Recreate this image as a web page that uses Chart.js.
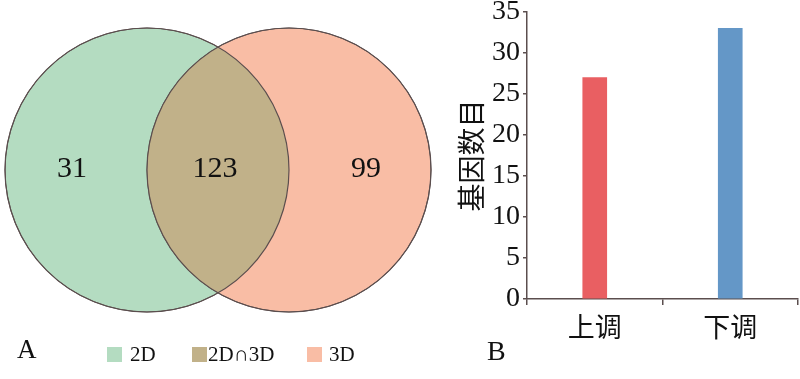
<!DOCTYPE html>
<html>
<head>
<meta charset="utf-8">
<script src="https://cdn.jsdelivr.net/npm/chart.js@4"></script>
<style>
  body { margin: 0; background: #fff; }
  #wrap { position: relative; width: 800px; height: 379px; }
  #venn { position: absolute; left: 0; top: 0; }
  #bars { position: absolute; left: 440px; top: 0; }
</style>
</head>
<body>
<div id="wrap">
  <canvas id="venn" width="440" height="379"></canvas>
  <canvas id="bars" width="360" height="379"></canvas>
</div>
<script>
// ==============================
// DATA
// ==============================
const vennSets   = ["2D", "2D∩3D", "3D"];
const vennCounts = [31, 123, 99];

const barLabels = ["上调", "下调"];
const barValues = [27, 33];
const yMax  = 35;
const yStep = 5;

// ==============================
// STYLE
// ==============================
const SERIF  = "'Liberation Serif', 'DejaVu Serif', serif";
const CJK    = "'Noto Sans CJK SC', sans-serif";
const INK    = "#111";
const AXIS   = "#5b4e4e";
const VENN_COLORS = ["#b4dcc1", "#c1b189", "#f9bda5"];
const BAR_COLORS  = ["#e95f62", "#6497c7"];

// circle layout (pixels in the venn canvas)
const CIRCLES = [{ x: 147, y: 170, r: 142 }, { x: 289, y: 170, r: 142 }];
const COUNT_X = [72, 215, 366];
const COUNT_Y = 169;

// ==============================
// VENN (bubble chart + overlay)
// ==============================
const vennPlugin = {
  id: "vennOverlay",
  afterDatasetsDraw(chart) {
    const ctx = chart.ctx;
    const pts = chart.getDatasetMeta(0).data;
    const a = pts[0], b = pts[1];
    const ra = a.options.radius, rb = b.options.radius;

    // intersection lens
    ctx.save();
    ctx.beginPath();
    ctx.arc(a.x, a.y, ra, 0, Math.PI * 2);
    ctx.clip();
    ctx.beginPath();
    ctx.arc(b.x, b.y, rb, 0, Math.PI * 2);
    ctx.fillStyle = VENN_COLORS[1];
    ctx.fill();
    ctx.restore();

    // outlines on top
    ctx.save();
    ctx.strokeStyle = AXIS;
    ctx.lineWidth = 1.2;
    [[a, ra], [b, rb]].forEach(([p, r]) => {
      ctx.beginPath();
      ctx.arc(p.x, p.y, r, 0, Math.PI * 2);
      ctx.stroke();
    });

    // counts
    ctx.fillStyle = INK;
    ctx.font = "30px " + SERIF;
    ctx.textAlign = "center";
    ctx.textBaseline = "middle";
    vennCounts.forEach((c, i) => ctx.fillText(String(c), COUNT_X[i], COUNT_Y));

    // legend
    const boxX  = [107, 192, 307];
    const textX = [130, 208, 329];
    ctx.textAlign = "left";
    ctx.font = "21px " + SERIF;
    vennSets.forEach((s, i) => {
      ctx.fillStyle = VENN_COLORS[i];
      ctx.fillRect(boxX[i], 347, 15, 15);
      ctx.fillStyle = INK;
      ctx.fillText(s, textX[i], 355);
    });

    // panel letter
    ctx.font = "27px " + SERIF;
    ctx.fillText("A", 17, 351);
    ctx.restore();
  }
};

new Chart(document.getElementById("venn"), {
  type: "bubble",
  data: {
    datasets: [{
      label: "venn",
      data: CIRCLES.map(c => ({ x: c.x, y: c.y, r: c.r })),
      backgroundColor: [VENN_COLORS[0], VENN_COLORS[2]],
      borderColor: AXIS,
      borderWidth: 1,
      clip: false
    }]
  },
  options: {
    responsive: false,
    animation: false,
    layout: { padding: 0, autoPadding: false },
    plugins: { legend: { display: false }, tooltip: { enabled: false } },
    scales: {
      x: { type: "linear", min: 0, max: 440, display: false },
      y: { type: "linear", min: 0, max: 379, reverse: true, display: false }
    }
  },
  plugins: [vennPlugin]
});

// ==============================
// BAR CHART
// ==============================
const panelB = {
  id: "panelB",
  afterDraw(chart) {
    const ctx = chart.ctx;
    ctx.save();
    ctx.fillStyle = INK;
    ctx.font = "28px " + SERIF;
    ctx.textAlign = "left";
    ctx.textBaseline = "middle";
    ctx.fillText("B", 47, 353);
    ctx.restore();
  }
};

new Chart(document.getElementById("bars"), {
  type: "bar",
  data: {
    labels: barLabels,
    datasets: [{
      data: barValues,
      backgroundColor: BAR_COLORS,
      barThickness: 24
    }]
  },
  options: {
    responsive: false,
    animation: false,
    layout: { padding: { top: 12, right: 2, left: 0, bottom: 0 } },
    plugins: { legend: { display: false }, tooltip: { enabled: false } },
    scales: {
      x: {
        border: { color: AXIS, width: 1.5 },
        grid: { drawOnChartArea: false, drawTicks: true, tickLength: 6, color: AXIS, lineWidth: 1.5 },
        ticks: { color: INK, font: { family: CJK, size: 27, lineHeight: 1 }, padding: 8 },
        afterFit(scale) { scale.height = 80; }
      },
      y: {
        min: 0,
        max: yMax,
        border: { color: AXIS, width: 1.5 },
        grid: { drawOnChartArea: false, drawTicks: true, tickLength: 4, color: AXIS, lineWidth: 1.5 },
        ticks: { stepSize: yStep, color: INK, font: { family: SERIF, size: 28, lineHeight: 1 }, padding: 3 },
        title: {
          display: true,
          text: "基因数目",
          color: INK,
          font: { family: CJK, size: 28 },
          padding: { top: 15, bottom: 0 }
        },
        afterFit(scale) {
          scale.width = 87;
          scale.paddingTop = 0;
          scale.paddingBottom = 0;
        }
      }
    }
  },
  plugins: [panelB]
});
</script>
</body>
</html>
